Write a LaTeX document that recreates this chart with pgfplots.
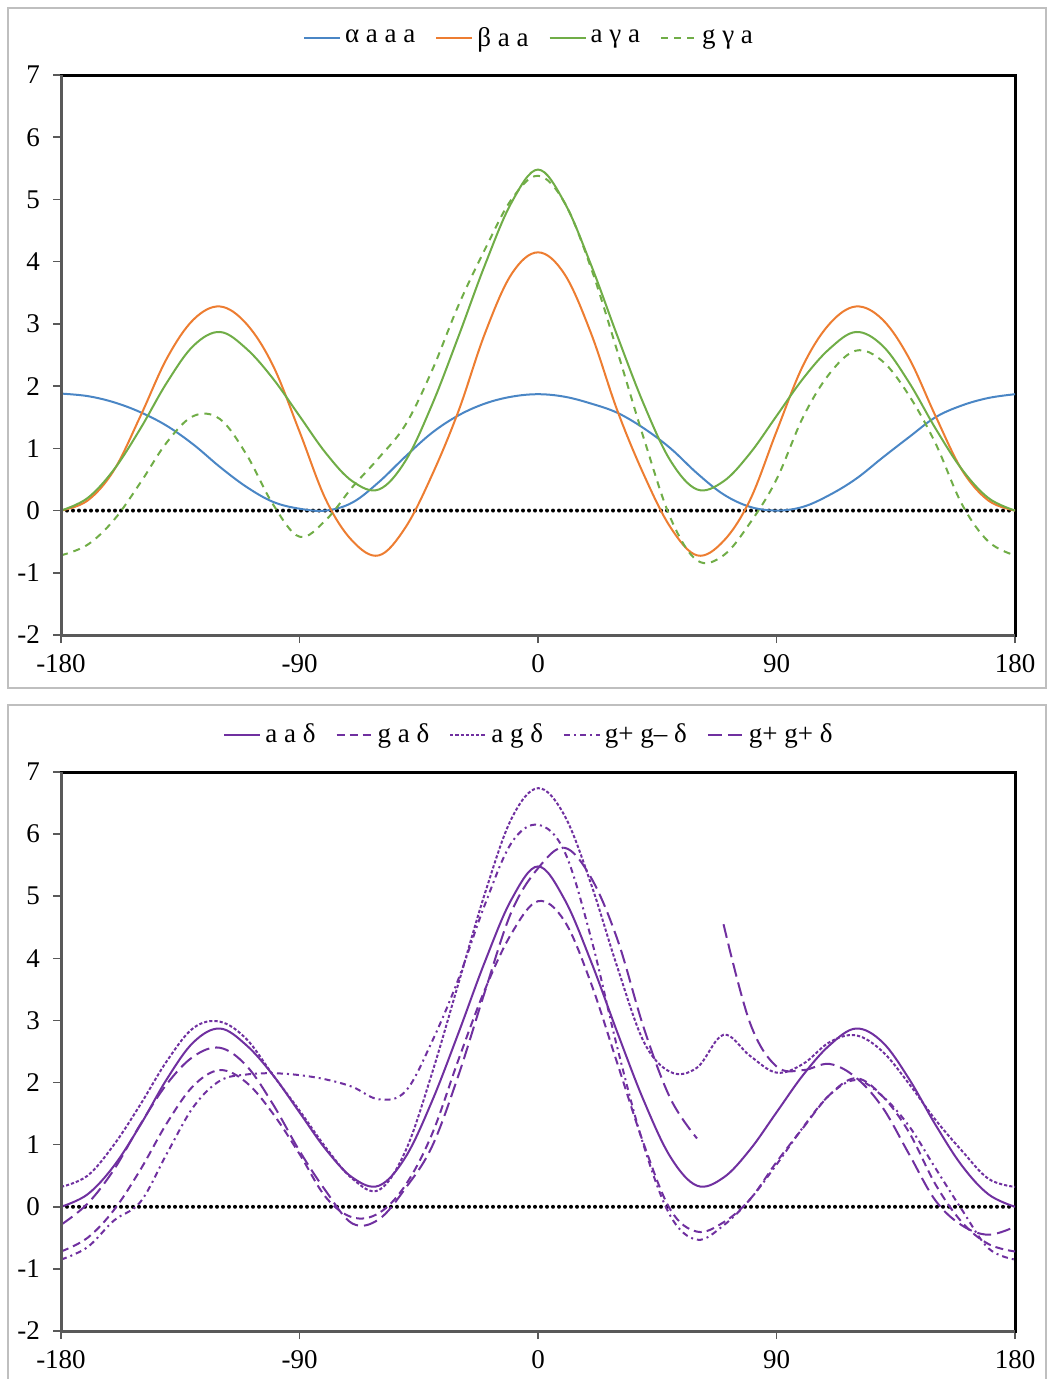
\documentclass[border=0pt]{standalone}
\usepackage{fontspec}
\setmainfont{Liberation Serif}
\usepackage{pgfplots}
\pgfplotsset{compat=1.18}
\definecolor{cblue}{HTML}{4A86C5}
\definecolor{corange}{HTML}{ED7D31}
\definecolor{cgreen}{HTML}{70AD47}
\definecolor{cpurple}{HTML}{7030A0}
\definecolor{axgray}{HTML}{595959}
\definecolor{framegray}{HTML}{BFBFBF}
\pgfplotsset{
  myaxis/.style={
    scale only axis, width=477pt,
    xmin=-180, xmax=180, ymin=-2, ymax=7,
    xtick={-180,-90,0,90,180}, xticklabels={-180,-90,0,90,180},
    ytick={-2,-1,0,1,2,3,4,5,6,7}, yticklabels={-2,-1,0,1,2,3,4,5,6,7},
    tick align=outside, xtick pos=left, ytick pos=left,
    major tick length=4pt,
    tick style={axgray, line width=0.8pt},
    axis line style={black, line width=1.5pt},
    tick label style={font=\fontsize{13.5}{16}\selectfont},
    xticklabel style={yshift=-2pt},
    yticklabel style={xshift=-3pt},
    legend columns=-1,
    legend style={draw=none, fill=none, at={(0.5,1)}, anchor=center, yshift=18.5pt, xshift=-4pt,
      font=\fontsize{13.5}{16}\selectfont,
      /tikz/every even column/.append style={column sep=8pt}},
    legend image code/.code={\draw[#1] (0pt,0pt) -- (18pt,0pt);},
    every axis plot/.append style={line width=1pt, smooth, tension=0.6},
    after end axis/.code={\draw[axgray, line width=1.5pt] (rel axis cs:0,1) -- (rel axis cs:0,0) -- (rel axis cs:1,0);},
  },
  zeroline/.style={black, line width=2pt, dash pattern=on 0pt off 3pt, line cap=round, forget plot},
}
\begin{document}
\begin{tikzpicture}
\path[use as bounding box] (0,0) rectangle (523pt,-689.5pt);
\draw[framegray, line width=0.6pt] (4pt,-4pt) rectangle (523pt,-344pt);
\draw[framegray, line width=0.6pt] (4pt,-352.5pt) rectangle (523pt,-690pt);
% ---------------- top panel
\begin{axis}[myaxis, height=280pt, at={(30.5pt,-317.5pt)}, anchor=south west]
\addplot[zeroline] coordinates {(-180,0) (180,0)};
\addplot[cblue] coordinates {(-180,1.88) (-170,1.84) (-160,1.74) (-150,1.58) (-140,1.36) (-130,1.06) (-120,0.7) (-110,0.38) (-100,0.14) (-90,0.03) (-80,0.0) (-70,0.13) (-60,0.46) (-50,0.87) (-40,1.25) (-30,1.53) (-20,1.72) (-10,1.83) (0,1.87) (10,1.83) (20,1.72) (30,1.57) (40,1.32) (50,1.0) (60,0.6) (70,0.26) (80,0.06) (90,0.0) (100,0.06) (110,0.25) (120,0.51) (130,0.85) (140,1.18) (150,1.5) (160,1.69) (170,1.81) (180,1.87)};
\addlegendentry{α a a a}
\addplot[corange] coordinates {(-180,0) (-170,0.16) (-160,0.65) (-150,1.52) (-140,2.45) (-130,3.07) (-120,3.28) (-110,3.0) (-100,2.33) (-90,1.27) (-80,0.17) (-70,-0.49) (-60,-0.72) (-50,-0.27) (-40,0.57) (-30,1.6) (-20,2.85) (-10,3.8) (0,4.15) (10,3.8) (20,2.85) (30,1.6) (40,0.57) (50,-0.27) (60,-0.72) (70,-0.49) (80,0.17) (90,1.27) (100,2.33) (110,3.0) (120,3.28) (130,3.07) (140,2.45) (150,1.52) (160,0.65) (170,0.16) (180,0)};
\addlegendentry{β a a}
\addplot[cgreen] coordinates {(-180,0) (-170,0.2) (-160,0.66) (-150,1.32) (-140,2.06) (-130,2.65) (-120,2.87) (-110,2.6) (-100,2.12) (-90,1.52) (-80,0.92) (-70,0.47) (-60,0.34) (-50,0.8) (-40,1.7) (-30,2.8) (-20,3.95) (-10,4.95) (0,5.48) (10,4.95) (20,3.95) (30,2.8) (40,1.7) (50,0.8) (60,0.34) (70,0.47) (80,0.92) (90,1.52) (100,2.12) (110,2.6) (120,2.87) (130,2.65) (140,2.06) (150,1.32) (160,0.66) (170,0.2) (180,0)};
\addlegendentry{a γ a}
\addplot[cgreen, dash pattern=on 3.5pt off 3pt] coordinates {(-180,-0.72) (-170,-0.55) (-160,-0.15) (-150,0.45) (-140,1.1) (-130,1.52) (-120,1.47) (-110,0.9) (-100,0.1) (-90,-0.42) (-80,-0.15) (-70,0.38) (-60,0.85) (-50,1.38) (-40,2.25) (-30,3.3) (-20,4.2) (-10,5.0) (0,5.38) (10,4.95) (20,3.9) (30,2.55) (40,1.15) (50,-0.12) (60,-0.8) (70,-0.72) (80,-0.2) (90,0.5) (100,1.5) (110,2.2) (120,2.57) (130,2.4) (140,1.85) (150,1.08) (160,0.1) (170,-0.5) (180,-0.72)};
\addlegendentry{g γ a}
\end{axis}
% ---------------- bottom panel
\begin{axis}[myaxis, height=279.5pt, at={(30.5pt,-665.5pt)}, anchor=south west]
\addplot[zeroline] coordinates {(-180,0) (180,0)};
\addplot[cpurple] coordinates {(-180,0) (-170,0.2) (-160,0.66) (-150,1.32) (-140,2.06) (-130,2.65) (-120,2.87) (-110,2.6) (-100,2.12) (-90,1.52) (-80,0.92) (-70,0.47) (-60,0.34) (-50,0.8) (-40,1.7) (-30,2.8) (-20,3.95) (-10,4.95) (0,5.48) (10,4.95) (20,3.95) (30,2.8) (40,1.7) (50,0.8) (60,0.34) (70,0.47) (80,0.92) (90,1.52) (100,2.12) (110,2.6) (120,2.87) (130,2.65) (140,2.06) (150,1.32) (160,0.66) (170,0.2) (180,0)};
\addlegendentry{a a δ}
\addplot[cpurple, dash pattern=on 4pt off 2.5pt] coordinates {(-180,-0.72) (-170,-0.5) (-160,-0.05) (-150,0.6) (-140,1.35) (-130,1.95) (-120,2.2) (-110,2.0) (-100,1.5) (-90,0.85) (-80,0.15) (-70,-0.17) (-60,-0.1) (-50,0.35) (-40,1.17) (-30,2.37) (-20,3.5) (-10,4.4) (0,4.92) (10,4.6) (20,3.6) (30,2.3) (40,1.0) (50,-0.05) (60,-0.4) (70,-0.25) (80,0.12) (90,0.72) (100,1.27) (110,1.8) (120,2.07) (130,1.78) (140,1.2) (150,0.36) (160,-0.25) (170,-0.6) (180,-0.72)};
\addlegendentry{g a δ}
\addplot[cpurple, dash pattern=on 1.6pt off 1pt] coordinates {(-180,0.32) (-170,0.5) (-160,1.0) (-150,1.65) (-140,2.35) (-130,2.88) (-120,2.98) (-110,2.7) (-100,2.12) (-90,1.55) (-80,0.95) (-70,0.45) (-60,0.27) (-50,0.9) (-40,2.15) (-30,3.6) (-20,5.05) (-10,6.25) (0,6.74) (10,6.3) (20,5.2) (30,3.85) (40,2.65) (50,2.17) (60,2.24) (70,2.77) (80,2.43) (90,2.16) (100,2.3) (110,2.65) (120,2.76) (130,2.5) (140,1.98) (150,1.4) (160,0.9) (170,0.45) (180,0.32)};
\addlegendentry{a g δ}
\addplot[cpurple, dash pattern=on 3pt off 2pt on 1pt off 2pt] coordinates {(-180,-0.85) (-170,-0.65) (-160,-0.22) (-150,0.08) (-140,0.86) (-130,1.61) (-120,2.03) (-110,2.13) (-100,2.15) (-90,2.12) (-80,2.05) (-70,1.93) (-60,1.73) (-50,1.86) (-40,2.66) (-30,3.67) (-20,4.87) (-10,5.86) (0,6.15) (10,5.72) (20,4.33) (30,2.55) (40,0.97) (50,-0.15) (60,-0.53) (70,-0.3) (80,0.12) (90,0.68) (100,1.28) (110,1.8) (120,2.04) (130,1.78) (140,1.3) (150,0.62) (160,-0.05) (170,-0.67) (180,-0.85)};
\addlegendentry{g+ g– δ}
\addplot[cpurple, dash pattern=on 7pt off 3pt] coordinates {(-180,-0.29) (-170,0.05) (-160,0.6) (-150,1.33) (-140,1.98) (-130,2.42) (-120,2.56) (-110,2.27) (-100,1.65) (-90,0.9) (-80,0.25) (-70,-0.27) (-60,-0.2) (-50,0.3) (-40,0.97) (-30,2.12) (-20,3.47) (-10,4.75) (0,5.45) (10,5.78) (20,5.3) (30,4.3) (40,2.87) (50,1.74) (60,1.1)};
\addlegendentry{g+ g+ δ}
\addplot[cpurple, dash pattern=on 7pt off 3pt, forget plot] coordinates {(70,4.55) (80,2.96) (90,2.26) (100,2.2) (110,2.3) (120,2.08) (130,1.6) (140,0.85) (150,0.1) (160,-0.3) (170,-0.45) (180,-0.32)};
\end{axis}
\end{tikzpicture}
\end{document}
